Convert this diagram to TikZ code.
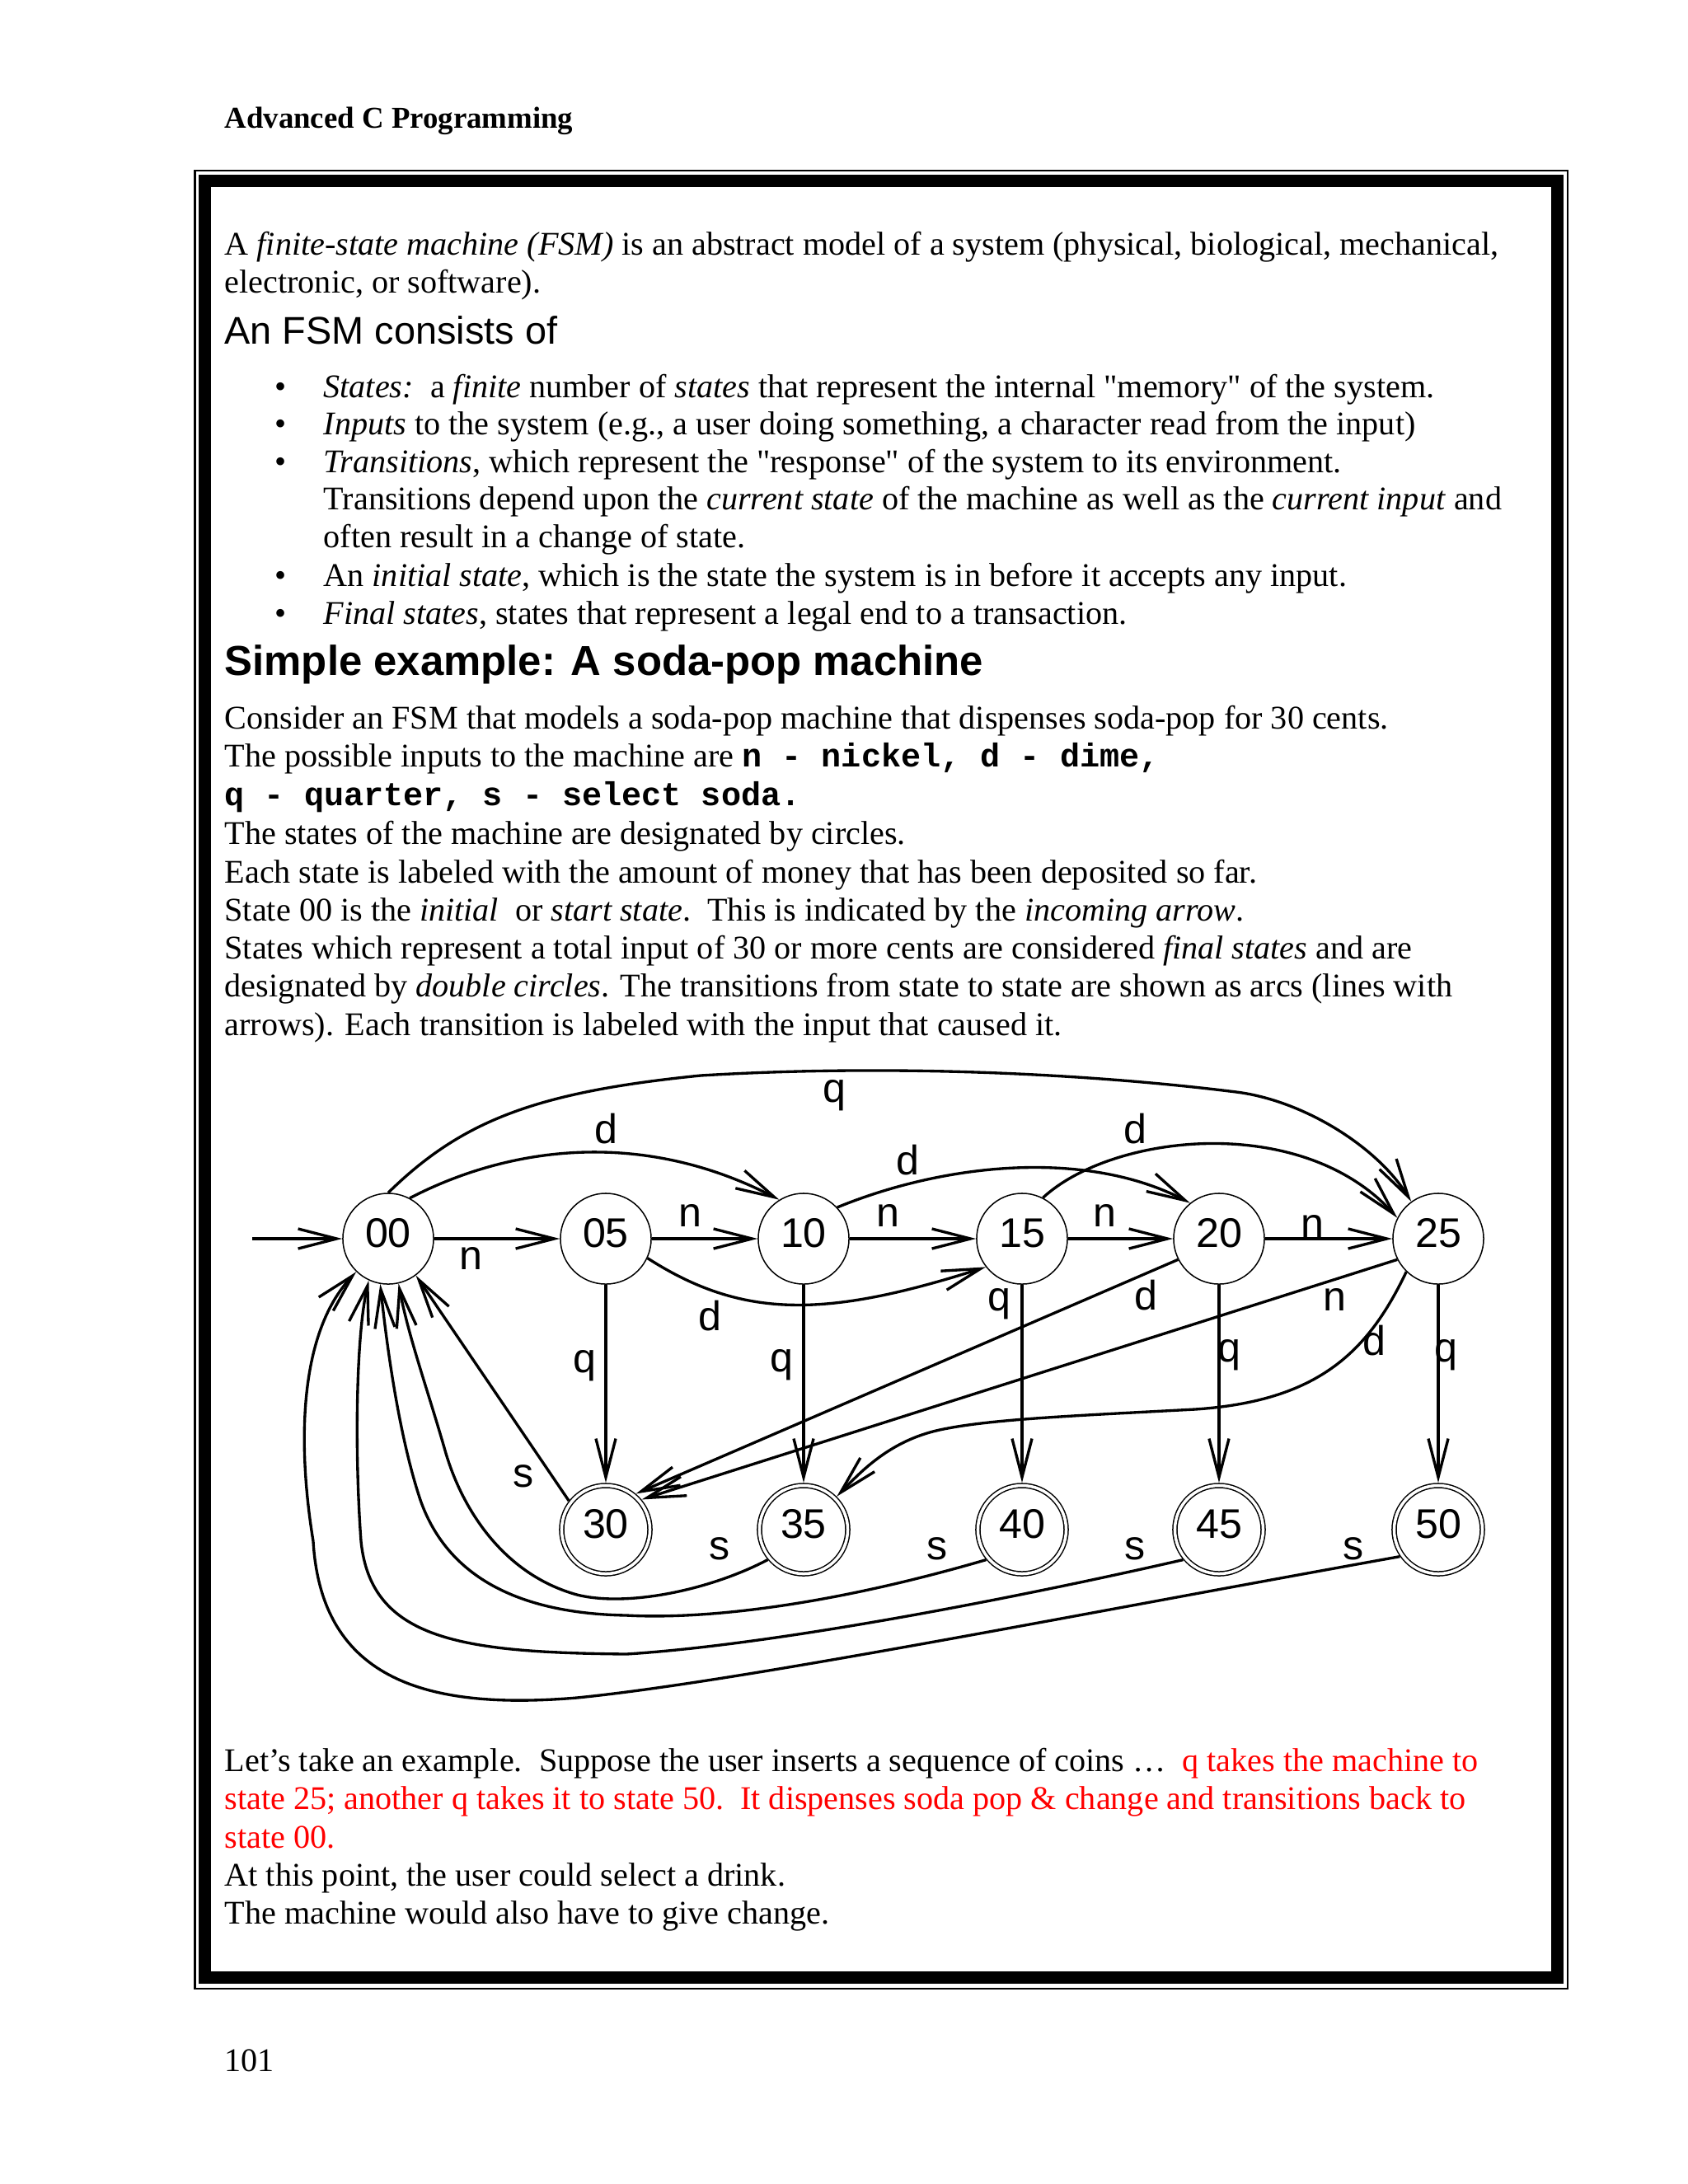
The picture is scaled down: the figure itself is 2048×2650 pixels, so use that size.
\documentclass[tikz,border=0pt]{standalone}
\usepackage{fontspec}
\setmainfont{Liberation Serif}
\setsansfont{Liberation Sans}
\setmonofont{Liberation Mono}
\usetikzlibrary{arrows.meta}
\newcommand\strq{\XeTeXglyph\XeTeXcharglyph"22\relax}
\tikzset{
  txt/.style={anchor=base west, inner sep=0pt, font=\fontsize{12pt}{14pt}\selectfont},
  st/.style={circle, draw, line width=0.45pt, minimum size=32.9pt, inner sep=0pt,
    text height=10.7pt, text depth=4.2pt,
    font=\sffamily\fontsize{15pt}{18pt}\selectfont},
  fin/.style={circle, draw, double, line width=0.45pt, double distance=1.05pt,
    minimum size=32pt, inner sep=0pt, outer sep=1pt,
    text height=10.7pt, text depth=4.2pt,
    font=\sffamily\fontsize{15pt}{18pt}\selectfont},
  arr/.style={line width=1pt, -{Straight Barb[length=14pt,width=7.2pt,line width=1pt]}},
  lbl/.style={inner sep=0pt, font=\sffamily\fontsize{15pt}{18pt}\selectfont},
}
\begin{document}
\begin{tikzpicture}[x=0.29883pt,y=-0.29883pt]
\useasboundingbox (0,0) rectangle (2048,2650);
\fill[white] (0,0) rectangle (2048,2650);

% header and page number
\node[txt, font=\fontsize{11pt}{13pt}\selectfont\bfseries] (hdr) at (272,155) {Advanced C Programming};
\node[txt] (pg) at (272,2513) {101};

% frame
\draw[line width=0.6pt] (236.5,206.5) rectangle (1901.5,2412.5);
\draw[line width=4.5pt] (248.5,219.5) rectangle (1889.5,2399.5);

% text
\node[txt] (l1) at (272,309) {A \textit{finite-state machine (FSM)} is an abstract model of a system (physical, biological, mechanical,};
\node[txt] (l2) at (272,355) {electronic, or software).};
\node[txt, font=\sffamily\fontsize{14pt}{16pt}\selectfont] (l3) at (272,417) {An FSM consists of};
\node[txt] (b1) at (333,482) {\textbullet};
\node[txt] (b2) at (333,527) {\textbullet};
\node[txt] (b3) at (333,573) {\textbullet};
\node[txt] (b4) at (333,711) {\textbullet};
\node[txt] (b5) at (333,757) {\textbullet};
\node[txt] (l4) at (392,482) {\textit{States:}\ \ a \textit{finite} number of \textit{states} that represent the internal \strq memory\strq\ of the system.};
\node[txt] (l5) at (392,527) {\textit{Inputs} to the system (e.g., a user doing something, a character read from the input)};
\node[txt] (l6) at (392,573) {\textit{Transitions}, which represent the \strq response\strq\ of the system to its environment.};
\node[txt] (l7) at (392,618) {Transitions depend upon the \textit{current state} of the machine as well as the \textit{current input} and};
\node[txt] (l8) at (392,664) {often result in a change of state.};
\node[txt] (l9) at (392,711) {An \textit{initial state}, which is the state the system is in before it accepts any input.};
\node[txt] (l10) at (392,757) {\textit{Final states}, states that represent a legal end to a transaction.};
\node[txt, font=\sffamily\bfseries\fontsize{15.2pt}{18pt}\selectfont] (l11) at (272,819) {Simple example: A soda-pop machine};
\node[txt] (l12) at (272,884) {Consider an FSM that models a soda-pop machine that dispenses soda-pop for 30 cents.};
\node[txt] (l13) at (272,930) {The possible inputs to the machine are {\ttfamily\bfseries n - nickel, d - dime,}};
\node[txt] (l14) at (272,977) {{\ttfamily\bfseries q - quarter, s - select soda.}};
\node[txt] (l15) at (272,1024) {The states of the machine are designated by circles.};
\node[txt] (l16) at (272,1071) {Each state is labeled with the amount of money that has been deposited so far.};
\node[txt] (l17) at (272,1117) {State 00 is the \textit{initial}\ \ or \textit{start state}.\ \ This is indicated by the \textit{incoming arrow}.};
\node[txt] (l18) at (272,1163) {States which represent a total input of 30 or more cents are considered \textit{final states} and are};
\node[txt] (l19) at (272,1209) {designated by \textit{double circles}. The transitions from state to state are shown as arcs (lines with};
\node[txt] (l20) at (272,1256) {arrows). Each transition is labeled with the input that caused it.};

\node[txt] (l21) at (272,2149) {Let’s take an example.\ \ Suppose the user inserts a sequence of coins …\ \ \textcolor{red}{q takes the machine to}};
\node[txt, text=red] (l22) at (272,2195) {state 25; another q takes it to state 50.\ \ It dispenses soda pop \& change and transitions back to};
\node[txt, text=red] (l23) at (272,2242) {state 00.};
\node[txt] (l24) at (272,2288) {At this point, the user could select a drink.};
\node[txt] (l25) at (272,2334) {The machine would also have to give change.};

% states
\node[st] (c00) at (471,1503) {00};
\node[st] (c05) at (735,1503) {05};
\node[st] (c10) at (975,1503) {10};
\node[st] (c15) at (1240,1503) {15};
\node[st] (c20) at (1479,1503) {20};
\node[st] (c25) at (1745,1503) {25};
\node[fin] (c30) at (735,1856) {30};
\node[fin] (c35) at (975,1856) {35};
\node[fin] (c40) at (1240,1856) {40};
\node[fin] (c45) at (1479,1856) {45};
\node[fin] (c50) at (1745,1856) {50};
\coordinate (init) at (306,1503);

% n transitions
\draw[arr] (init) -- (c00.west);
\draw[arr] (c00.east) -- (c05.west);
\draw[arr] (c05.east) -- (c10.west);
\draw[arr] (c10.east) -- (c15.west);
\draw[arr] (c15.east) -- (c20.west);
\draw[arr] (c20.east) -- (c25.west);
\draw[arr] (c25.-153) -- (c30.40);

% d transitions
\draw[arr] (c00.62) .. controls (620,1390) and (780,1370) .. (c10.122);
\draw[arr] (c05.-25) .. controls (900,1600) and (1000,1600) .. (c15.-142);
\draw[arr] (c10.43) .. controls (1150,1410) and (1320,1395) .. (c20.129);
\draw[arr] (c15.63) .. controls (1350,1375) and (1580,1350) .. (c25.153);
\draw[arr] (c20.-153) -- (c30.50);
\draw[arr] (c25.-134) .. controls (1660,1640) and (1600,1700) .. (1450,1710)
   .. controls (1300,1718) and (1200,1722) .. (1140,1735)
   .. controls (1080,1748) and (1045,1785) .. (c35.45);

% q transitions
\draw[arr] (c00.90) .. controls (560,1360) and (650,1325) .. (850,1305)
   .. controls (1100,1290) and (1340,1305) .. (1500,1325)
   .. controls (1580,1335) and (1670,1390) .. (c25.126);
\draw[arr] (c05.south) -- (c30.north);
\draw[arr] (c10.south) -- (c35.north);
\draw[arr] (c15.south) -- (c40.north);
\draw[arr] (c20.south) -- (c45.north);
\draw[arr] (c25.south) -- (c50.north);

% s transitions
\draw[arr] (c30.142) -- (c00.-53);
\draw[arr] (c35.220) .. controls (860,1930) and (760,1950) .. (700,1935)
   .. controls (610,1910) and (560,1830) .. (540,1760)
   .. controls (520,1690) and (495,1620) .. (c00.-77);
\draw[arr] (c40.220) .. controls (1000,1950) and (850,1965) .. (760,1960)
   .. controls (640,1958) and (545,1920) .. (510,1820)
   .. controls (485,1745) and (470,1640) .. (c00.-100);
\draw[arr] (c45.220) .. controls (1250,1935) and (950,1995) .. (760,2007)
   .. controls (560,2005) and (450,1990) .. (438,1870)
   .. controls (430,1760) and (432,1620) .. (c00.-115);
\draw[arr] (c50.215) .. controls (1300,1960) and (900,2040) .. (700,2060)
   .. controls (520,2075) and (390,2040) .. (380,1870)
   .. controls (362,1760) and (360,1620) .. (c00.-134);

% edge labels
\node[lbl] (ln1) at (571,1527) {n};
\node[lbl] (ln2) at (837,1475) {n};
\node[lbl] (ln3) at (1077,1475) {n};
\node[lbl] (ln4) at (1340,1475) {n};
\node[lbl] (ln5) at (1592,1488) {n};
\node[lbl] (ln6) at (1619,1577) {n};
\node[lbl] (ld1) at (735,1370) {d};
\node[lbl] (ld2) at (861,1597) {d};
\node[lbl] (ld3) at (1101,1408) {d};
\node[lbl] (ld4) at (1377,1370) {d};
\node[lbl] (ld5) at (1390,1572) {d};
\node[lbl] (ld6) at (1667,1627) {d};
\node[lbl] (lq1) at (1012,1329) {q};
\node[lbl] (lq2) at (709,1657) {q};
\node[lbl] (lq3) at (948,1656) {q};
\node[lbl] (lq4) at (1212,1582) {q};
\node[lbl] (lq5) at (1491,1644) {q};
\node[lbl] (lq6) at (1754,1644) {q};
\node[lbl] (ls1) at (635,1791) {s};
\node[lbl] (ls2) at (873,1879) {s};
\node[lbl] (ls3) at (1137,1879) {s};
\node[lbl] (ls4) at (1377,1879) {s};
\node[lbl] (ls5) at (1642,1879) {s};
\end{tikzpicture}
\end{document}
